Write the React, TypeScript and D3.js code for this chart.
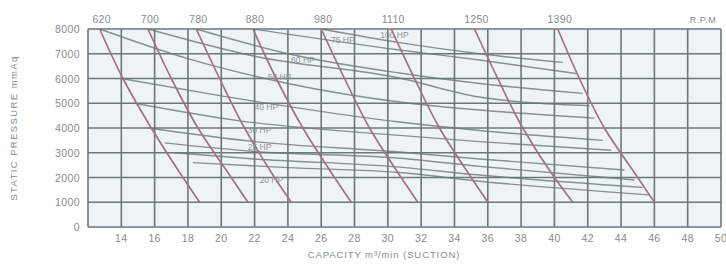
import React, { useRef, useEffect } from "react";
import * as d3 from "d3";

// capacity (m3/min) ticks and pressure (mmAq) ticks
const xTicks = [14, 16, 18, 20, 22, 24, 26, 28, 30, 32, 34, 36, 38, 40, 42, 44, 46, 48, 50];
const yTicks = [0, 1000, 2000, 3000, 4000, 5000, 6000, 7000, 8000];

// fan speed curves: pressure -> capacity
const rpmNames = ["620", "700", "780", "880", "980", "1110", "1250", "1390"];
const rpmPressure = [8000, 6000, 4000, 2000, 1000];
const rpmCapacity = [
  [12.7, 14.1, 15.8, 17.7, 18.7],
  [15.6, 17.0, 18.6, 20.6, 21.6],
  [18.5, 19.9, 21.4, 23.2, 24.2],
  [21.9, 23.3, 24.9, 26.8, 27.8],
  [26.0, 27.4, 28.9, 30.8, 31.8],
  [30.2, 31.6, 33.1, 35.0, 36.0],
  [35.2, 36.6, 38.1, 40.0, 41.1],
  [40.2, 41.5, 43.0, 45.0, 46.0],
];

// power lines [capacity, pressure]
const hpLines: [number, number][][] = [
  [[26.0, 8000], [30.7, 7450], [35.5, 7000], [40.5, 6650]],
  [[21.9, 8000], [30.7, 7150], [35.5, 6750], [41.3, 6200]],
  [[18.5, 8000], [24.0, 7000], [30.7, 6220], [35.5, 5800], [41.7, 5400]],
  [[15.6, 8000], [22.0, 6900], [30.7, 6020], [35.5, 5250], [42.1, 4900]],
  [[12.7, 8000], [18.0, 6800], [24.0, 5800], [30.7, 5050], [35.5, 4727], [42.4, 4400]],
  [[14.0, 6000], [20.0, 5300], [30.7, 4240], [35.5, 3900], [42.9, 3500]],
  [[14.8, 5000], [21.0, 4300], [30.7, 3700], [35.5, 3450], [43.4, 3100]],
  [[15.6, 4000], [22.0, 3450], [30.7, 3030], [35.5, 2750], [44.2, 2300]],
  [[16.6, 3400], [22.0, 3050], [30.7, 2780], [35.5, 2450], [44.8, 1900]],
  [[17.2, 3000], [22.0, 2750], [30.7, 2420], [35.5, 2100], [45.3, 1600]],
  [[18.3, 2600], [24.0, 2400], [30.7, 2200], [35.5, 1850], [45.7, 1300]],
];

const hpNames = ["100 HP", "75 HP", "60 HP", "50 HP", "40 HP", "30 HP", "25 HP", "20 HP"];
const hpLabelAt: [number, number][] = [
  [30.4, 7636], [27.3, 7434], [24.9, 6626], [23.5, 5939],
  [22.7, 4727], [22.3, 3798], [22.3, 3111], [23.0, 1778],
];

const margin = { top: 29, right: 5, bottom: 39, left: 88 };
const width = 726;
const height = 266;

const App = () => {
  const canvas = useRef<SVGSVGElement>(null);

  useEffect(() => {
    const svg = d3.select(canvas.current);
    svg.selectAll("*").remove();

    const xScale = d3.scaleLinear().domain([12, 50]).range([margin.left, width - margin.right]);
    const yScale = d3.scaleLinear().domain([0, 8000]).range([height - margin.bottom, margin.top]);
    const font = "'Liberation Sans', Arial, sans-serif";
    const textColor = "#868c8d";

    // plot background
    svg.append("rect")
      .attr("x", xScale(12)).attr("y", yScale(8000))
      .attr("width", xScale(50) - xScale(12)).attr("height", yScale(0) - yScale(8000))
      .attr("fill", "#eef3f6");

    const line = d3.line<[number, number]>()
      .x(d => xScale(d[0]))
      .y(d => yScale(d[1]))
      .curve(d3.curveMonotoneX);

    // power lines
    svg.append("g").selectAll("path")
      .data(hpLines)
      .join("path")
      .attr("d", d => line(d))
      .attr("fill", "none")
      .attr("stroke", "#859091")
      .attr("stroke-width", 1.4);

    // grid
    const grid = svg.append("g").attr("stroke", "#6c7877").attr("stroke-width", 1.6);
    grid.selectAll("line.v")
      .data(d3.range(12, 51, 2))
      .join("line")
      .attr("x1", d => xScale(d)).attr("x2", d => xScale(d))
      .attr("y1", yScale(0)).attr("y2", yScale(8000));
    grid.selectAll("line.h")
      .data(yTicks)
      .join("line")
      .attr("x1", xScale(12)).attr("x2", xScale(50))
      .attr("y1", d => yScale(d)).attr("y2", d => yScale(d));

    // rpm curves
    const rpmLine = d3.line<number>()
      .x(d => xScale(d))
      .y((d, i) => yScale(rpmPressure[i]))
      .curve(d3.curveMonotoneY);
    svg.append("g").selectAll("path")
      .data(rpmCapacity)
      .join("path")
      .attr("d", d => rpmLine(d))
      .attr("fill", "none")
      .attr("stroke", "#a4727c")
      .attr("stroke-width", 1.7);

    // hp labels
    svg.append("g").selectAll("text")
      .data(hpNames)
      .join("text")
      .attr("x", (d, i) => xScale(hpLabelAt[i][0]))
      .attr("y", (d, i) => yScale(hpLabelAt[i][1]))
      .attr("text-anchor", "middle")
      .attr("font-family", font)
      .attr("font-size", 8.5)
      .attr("fill", "#8e9597")
      .text(d => d);

    // rpm labels
    svg.append("g").selectAll("text")
      .data(rpmNames)
      .join("text")
      .attr("x", (d, i) => xScale(rpmCapacity[i][0]) + 2)
      .attr("y", 23)
      .attr("text-anchor", "middle")
      .attr("font-family", font)
      .attr("font-size", 10.5)
      .attr("letter-spacing", 0.3)
      .attr("fill", textColor)
      .text(d => d);
    svg.append("text")
      .attr("x", 703).attr("y", 23)
      .attr("text-anchor", "middle")
      .attr("font-family", font).attr("font-size", 9)
      .attr("letter-spacing", 0.5)
      .attr("fill", textColor)
      .text("R.P.M");

    // axes labels
    svg.append("g").selectAll("text")
      .data(yTicks)
      .join("text")
      .attr("x", 80)
      .attr("y", d => yScale(d) + 4)
      .attr("text-anchor", "end")
      .attr("font-family", font).attr("font-size", 10.5)
      .attr("letter-spacing", 0.4)
      .attr("fill", textColor)
      .text(d => d);
    svg.append("g").selectAll("text")
      .data(xTicks)
      .join("text")
      .attr("x", d => xScale(d))
      .attr("y", 242)
      .attr("text-anchor", "middle")
      .attr("font-family", font).attr("font-size", 10.5)
      .attr("letter-spacing", 0.4)
      .attr("fill", textColor)
      .text(d => d);

    svg.append("text")
      .attr("x", 384).attr("y", 258)
      .attr("text-anchor", "middle")
      .attr("font-family", font).attr("font-size", 9.5)
      .attr("letter-spacing", 0.9)
      .attr("fill", textColor)
      .text("CAPACITY m³/min (SUCTION)");
    svg.append("text")
      .attr("transform", "translate(17,128) rotate(-90)")
      .attr("text-anchor", "middle")
      .attr("font-family", font).attr("font-size", 9.5)
      .attr("letter-spacing", 1.4)
      .attr("fill", textColor)
      .text("STATIC PRESSURE mmAq");
  });

  return (
    <div style={{ position: "absolute", left: 0, top: 0 }}>
      <svg ref={canvas} width={width} height={height} style={{ display: "block", background: "#fff" }} />
    </div>
  );
};

export default App;
